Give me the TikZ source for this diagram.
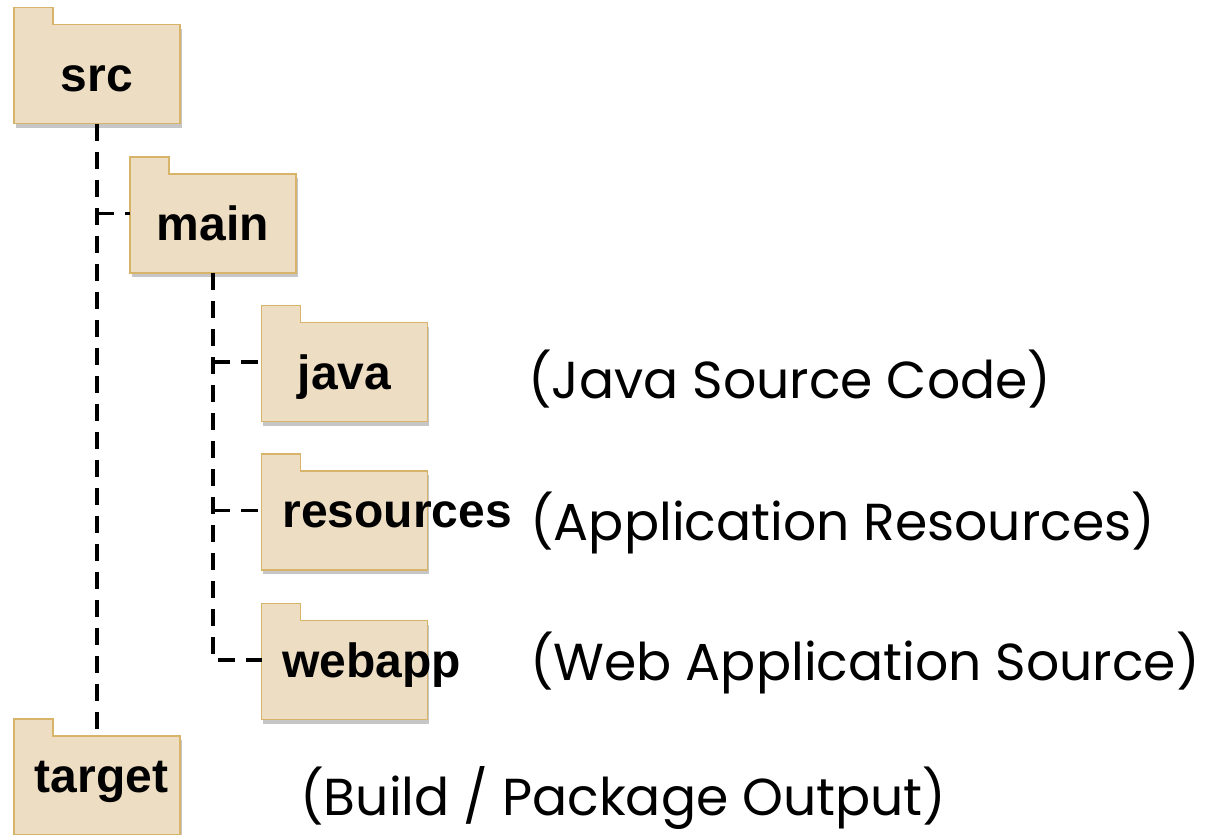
\documentclass[tikz,border=0pt]{standalone}
\usepackage{fontspec}
\setmainfont{Liberation Sans}
\newfontfamily\descfont{Poppins}
\usetikzlibrary{shadows}
\definecolor{folderfill}{RGB}{237,221,194}
\definecolor{folderline}{RGB}{216,180,106}
\tikzset{
  folder/.style={shape=rectangle, draw=folderline, fill=folderfill, line width=1.2pt, outer sep=0pt,
    minimum width=124.5pt, minimum height=74.25pt, inner xsep=15.75pt, inner ysep=0pt,
    text width=93pt, align=flush center, text height=25.5pt, text depth=0pt,
    font=\bfseries\fontsize{36}{40}\selectfont,
    drop shadow={shadow xshift=1.2pt, shadow yshift=-3pt, opacity=0.45}},
  wide folder/.style={folder, text depth=15pt},
  tab/.style={draw=folderline, fill=folderfill, line width=1.2pt},
  tree/.style={draw=black, line width=2.6pt, dash pattern=on 12.75pt off 8.25pt},
  desc/.style={anchor=base west, inner sep=0pt, font=\descfont\fontsize{39}{44}\selectfont}
}
\begin{document}
\begin{tikzpicture}[x=0.75pt, y=-0.75pt]
\useasboundingbox (0,0) rectangle (1211,835);

\node[folder] (src) at (97,74) {src};
\node[folder] (main) at (213,223.5) {main};
\node[folder] (java) at (344.5,372) {java};
\node[wide folder] (resources) at (344.5,520.5) {resources};
\node[wide folder] (webapp) at (344.5,670) {webapp};
\node[wide folder] (target) at (97,785.5) {target};

\foreach \f in {src,main,java,resources,webapp,target}{
  \filldraw[tab] (\f.north west) -- ++(0,-17) -- ++(39,0) -- ++(0,17);
  \fill[folderfill] ([shift={(0.8,-1)}]\f.north west) rectangle ++(37.4,2);
}

\draw[tree] (src.south) -- (target.north);
\draw[tree] ([yshift=7.5pt]main.west -| src.south) -- ([yshift=7.5pt]main.west);
\draw[tree] (main.south) |- ([yshift=7.5pt]webapp.west);
\draw[tree] ([yshift=7.5pt]java.west -| main.south) -- ([yshift=7.5pt]java.west);
\draw[tree] ([yshift=7.5pt]resources.west -| main.south) -- ([yshift=7.5pt]resources.west);

\node[desc] (javadesc) at (528,398) {(Java Source Code)};
\node[desc] (resdesc) at (530,540) {(Application Resources)};
\node[desc] (webdesc) at (530,680) {(Web Application Source)};
\node[desc] (targetdesc) at (300,815) {(Build / Package Output)};

\end{tikzpicture}
\end{document}
